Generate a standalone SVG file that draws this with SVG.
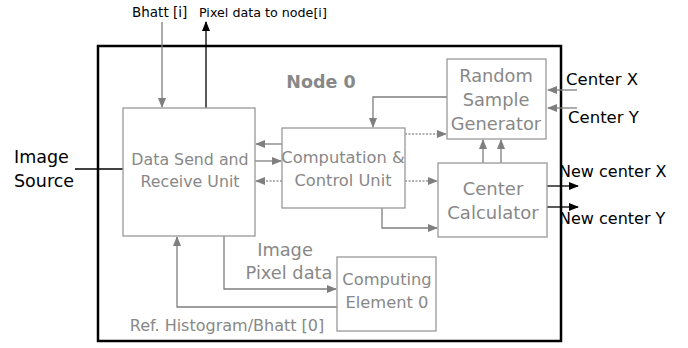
<svg xmlns="http://www.w3.org/2000/svg" width="688" height="348" viewBox="0 0 688 348">
<defs>
<marker id="ag" markerWidth="10" markerHeight="8" refX="9" refY="4" orient="auto" markerUnits="userSpaceOnUse"><path d="M0,0 L10,4 L0,8 z" fill="#7f7f7f"/></marker>
<marker id="ab" markerWidth="10" markerHeight="8" refX="9" refY="4" orient="auto" markerUnits="userSpaceOnUse"><path d="M0,0 L10,4 L0,8 z" fill="#000"/></marker>
</defs>
<style>
text{font-family:"DejaVu Sans",sans-serif}
.box{fill:#fff;stroke:#999;stroke-width:1.3}
.gt{fill:#888;text-anchor:middle}
.bt{fill:#000}
.g{fill:none;stroke:#7f7f7f;stroke-width:1.3;marker-end:url(#ag)}
.d{fill:none;stroke:#999;stroke-width:1.3;stroke-dasharray:2,1.5;marker-end:url(#ag)}
.k{fill:none;stroke:#000;stroke-width:1.3;marker-end:url(#ab)}
</style>
<rect x="98" y="46" width="463" height="295" fill="#fff" stroke="#000" stroke-width="2.5"/>
<text x="321" y="88" font-size="17.5" font-weight="bold" fill="#888" text-anchor="middle">Node 0</text>
<g id="connectors">
<line x1="75" y1="169" x2="123" y2="169" stroke="#000" stroke-width="1.3"/>
<line class="g" x1="162" y1="22" x2="162" y2="107"/>
<line class="k" x1="206" y1="108" x2="206" y2="22"/>
<line class="g" x1="282" y1="144" x2="256" y2="144"/>
<line class="g" x1="255" y1="161" x2="281" y2="161"/>
<line class="d" x1="282" y1="181" x2="256" y2="181"/>
<line class="d" x1="405" y1="134" x2="446" y2="134"/>
<line class="d" x1="405" y1="181" x2="437" y2="181"/>
<polyline class="g" points="382,208 382,228 437,228"/>
<polyline class="g" points="447,97 373,97 373,127"/>
<line class="g" x1="483" y1="163" x2="483" y2="140"/>
<line class="g" x1="501" y1="163" x2="501" y2="140"/>
<line class="g" x1="577" y1="90" x2="548" y2="90"/>
<line class="g" x1="577" y1="108" x2="548" y2="108"/>
<line class="k" x1="547" y1="186" x2="578" y2="186"/>
<line class="k" x1="547" y1="207" x2="578" y2="207"/>
<polyline class="g" points="224,236 224,289 336,289"/>
<polyline class="g" points="337,307 177,307 177,237"/>
</g>
<g id="dsru"><rect class="box" x="123" y="108" width="132" height="128"/>
<text class="gt" font-size="15.8"><tspan x="190" y="165">Data Send and</tspan><tspan x="190" y="187">Receive Unit</tspan></text></g>
<g id="ccu"><rect class="box" x="282" y="128" width="123" height="80"/>
<text class="gt" font-size="16.3"><tspan x="343" y="163">Computation &amp;</tspan><tspan x="343" y="186">Control Unit</tspan></text></g>
<g id="rsg"><rect class="box" x="447" y="59" width="99" height="80"/>
<text class="gt" font-size="17.8"><tspan x="496" y="82">Random</tspan><tspan x="496" y="106">Sample</tspan><tspan x="496" y="130">Generator</tspan></text></g>
<g id="cc"><rect class="box" x="438" y="163" width="109" height="74"/>
<text class="gt" font-size="18"><tspan x="493" y="195">Center</tspan><tspan x="493" y="219">Calculator</tspan></text></g>
<g id="ce0"><rect class="box" x="337" y="257" width="99" height="74"/>
<text class="gt" font-size="16.3"><tspan x="387" y="285">Computing</tspan><tspan x="387" y="308">Element 0</tspan></text></g>
<g id="labels">
<text class="bt" x="132" y="17" font-size="13.5">Bhatt [i]</text>
<text class="bt" x="199" y="17" font-size="12.7">Pixel data to node[i]</text>
<text class="bt" font-size="17.5"><tspan x="14" y="163">Image</tspan><tspan x="14" y="187">Source</tspan></text>
<text class="bt" x="566" y="85" font-size="16.5">Center X</text>
<text class="bt" x="568" y="123" font-size="16.5">Center Y</text>
<text class="bt" x="559" y="177" font-size="16">New center X</text>
<text class="bt" x="559" y="224" font-size="16">New center Y</text>
<text class="gt" font-size="17.8"><tspan x="285" y="256">Image</tspan><tspan x="289" y="279">Pixel data</tspan></text>
<text class="gt" x="227" y="331" font-size="16">Ref. Histogram/Bhatt [0]</text>
</g>
</svg>
